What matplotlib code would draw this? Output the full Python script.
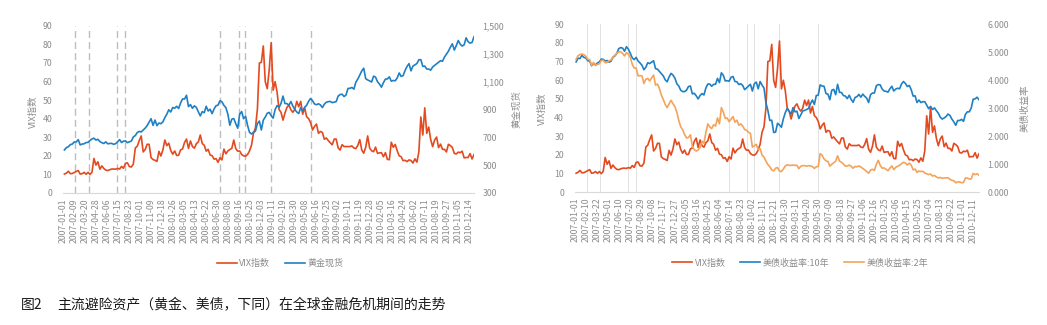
import matplotlib
matplotlib.use("Agg")
import matplotlib.pyplot as plt
from matplotlib.ticker import FuncFormatter
import pandas as pd

plt.rcParams['font.family'] = ['Noto Sans CJK SC', 'DejaVu Sans']

# weekly observations on the chart's date axis
weeks = pd.date_range('2007-01-05', periods=209, freq='W-FRI')

vix = [10.2, 10.7, 11.7, 10.4, 10.5, 11.0, 11.6,
       12.1, 10.2, 10.4, 11.1, 10.1, 11.1, 10.0, 11.2, 18.6, 15.0, 16.8, 12.8, 14.6,
       13.2, 12.3, 12.1, 12.5, 12.9, 12.9, 12.8, 13.2, 12.9, 14.3, 13.3, 16.0, 16.2,
       14.2, 14.0, 15.6, 24.2, 25.2, 28.2, 30.7, 22.1, 23.4, 26.2, 26.2, 19.0, 18.0,
       17.6, 17.0, 22.4, 19.9, 23.2, 28.5, 25.5, 26.8, 22.9, 20.9, 22.6, 20.2, 20.3,
       23.2, 23.7, 27.2, 29.0, 24.0, 28.0, 25.0, 24.1, 26.5, 27.5, 31.2, 26.6, 25.7,
       22.5, 23.5, 20.4, 20.1, 18.2, 18.5, 16.5, 19.0, 17.8, 23.6, 21.1, 22.6, 23.4,
       24.0, 28.5, 23.9, 22.5, 22.6, 20.7, 20.0, 19.8, 20.7, 22.6, 25.7, 32.1, 35.0,
       45.1, 69.9, 70.3, 79.1, 59.9, 56.1, 66.3, 80.9, 55.3, 59.9, 54.3, 44.9, 43.4,
       39.2, 43.0, 46.1, 47.3, 44.8, 43.4, 45.0, 49.3, 46.4, 49.3, 42.4, 45.9, 41.0,
       40.0, 37.9, 33.9, 35.8, 37.1, 32.1, 33.1, 32.6, 28.9, 29.6, 28.2, 27.0, 25.9,
       29.0, 29.0, 24.3, 23.1, 26.0, 25.0, 25.0, 25.0, 25.0, 25.3, 24.2, 23.9, 25.6,
       28.7, 23.1, 21.4, 24.6, 30.7, 24.2, 22.7, 22.2, 24.7, 21.3, 21.6, 21.7, 19.5,
       21.7, 18.1, 17.9, 27.3, 24.6, 26.1, 22.7, 20.0, 19.5, 17.4, 17.6, 16.9, 17.8,
       17.5, 16.1, 18.4, 16.6, 22.1, 40.9, 31.2, 45.8, 32.1, 35.5, 28.8, 24.9, 28.5,
       30.1, 24.4, 26.3, 23.5, 23.5, 22.1, 26.2, 25.5, 24.5, 21.3, 21.0, 22.0, 21.7,
       22.5, 18.9, 19.1, 19.1, 21.2, 18.3, 20.6]

gold = [609, 626, 632, 647, 651, 666, 666, 683, 645, 651, 653, 662, 663, 677, 688,
        693, 680, 685, 669, 661, 655, 667, 653, 655, 656, 649, 654, 667, 683, 662,
        672, 674, 661, 667, 673, 702, 712, 734, 742, 738, 751, 765, 783, 808, 833,
        785, 823, 783, 802, 797, 810, 841,
        865, 897, 881, 913, 908, 922, 906, 946, 975, 974, 1001, 920, 934, 908, 925,
        914, 882, 853, 884, 876, 922, 888, 901, 869, 903, 926, 930, 962, 954, 928,
        912, 865, 786, 830, 834, 797, 765, 866, 884, 833, 850, 785, 735, 723, 736,
        744, 798, 816, 752, 823, 845, 872,
        878, 854, 837, 899, 927, 914, 943, 995, 942, 941, 930, 956, 924, 899, 881,
        870, 913, 886, 915, 929, 958, 978, 962, 939, 933, 940, 932, 913, 937, 951,
        955, 957, 948, 952, 955, 995, 1006, 1009, 992, 1003, 1050, 1051, 1057, 1045,
        1095, 1118, 1146, 1176, 1195, 1120, 1111, 1104,
        1096, 1138, 1131, 1098, 1081, 1059, 1091, 1117, 1118, 1133, 1102, 1107, 1105,
        1125, 1161, 1136, 1142, 1179, 1208, 1228, 1176, 1211, 1219, 1229, 1256, 1256,
        1208, 1210, 1189, 1189, 1181, 1204, 1215, 1227, 1237, 1249, 1245, 1275, 1296,
        1317, 1346, 1370, 1325, 1357, 1394, 1367, 1354, 1363, 1413, 1385, 1375, 1380,
        1421]

ust10 = [4.65, 4.78, 4.77, 4.88, 4.81, 4.79, 4.69, 4.68, 4.51, 4.59, 4.54, 4.61, 4.65,
         4.75, 4.74, 4.68, 4.70, 4.64, 4.67, 4.81, 4.86, 4.95, 5.12, 5.16, 5.14, 5.03,
         5.19, 5.10, 4.95, 4.79, 4.73, 4.81, 4.68, 4.61, 4.53, 4.37, 4.46, 4.62, 4.59,
         4.64, 4.69, 4.41, 4.39, 4.31, 4.23, 4.15, 4.01, 3.94, 4.11, 4.24, 4.18, 4.07,
         3.87, 3.79, 3.64, 3.59, 3.59, 3.64, 3.77, 3.79, 3.51, 3.53, 3.44, 3.33, 3.45,
         3.52, 3.47, 3.72, 3.86, 3.86, 3.78, 3.85, 3.85, 4.06, 3.91, 4.26, 4.17, 3.97,
         3.98, 3.96, 4.10, 4.13, 3.95, 3.94, 3.84, 3.87, 3.81, 3.66, 3.72, 3.79, 3.85,
         3.61, 3.87, 3.93, 3.69, 3.95, 3.82, 3.72, 3.19, 2.92, 2.56, 2.57, 2.13, 2.15,
         2.46, 2.40, 2.32, 2.62, 2.84, 2.99, 2.89, 2.79, 3.02, 2.87, 2.89, 2.63, 2.76,
         2.90, 2.92, 2.95, 2.99, 3.16, 3.29, 3.13, 3.45, 3.46, 3.83, 3.79, 3.78, 3.52,
         3.50, 3.30, 3.64, 3.67, 3.48, 3.85, 3.56, 3.56, 3.45, 3.43, 3.34, 3.46, 3.31,
         3.21, 3.38, 3.41, 3.49, 3.39, 3.50, 3.42, 3.36, 3.20, 3.48, 3.54, 3.54, 3.80,
         3.84, 3.83, 3.68, 3.61, 3.60, 3.57, 3.69, 3.78, 3.61, 3.68, 3.71, 3.69, 3.86,
         3.95, 3.88, 3.77, 3.81, 3.66, 3.43, 3.44, 3.20, 3.29, 3.20, 3.23, 3.23, 3.11,
         2.98, 3.06, 2.95, 3.01, 2.91, 2.82, 2.68, 2.61, 2.65, 2.70, 2.79, 2.74, 2.61,
         2.51, 2.39, 2.56, 2.56, 2.60, 2.53, 2.78, 2.87, 2.87, 3.01, 3.32, 3.33, 3.39,
         3.30]

ust2 = [4.74, 4.87, 4.91, 4.93, 4.91, 4.85, 4.74, 4.73, 4.52, 4.63, 4.52, 4.56, 4.58,
        4.70, 4.71, 4.62, 4.63, 4.69, 4.71, 4.83, 4.88, 4.96, 5.00, 5.01, 4.95, 4.86,
        4.98, 4.92, 4.81, 4.56, 4.43, 4.43, 4.15, 4.16, 4.15, 3.88, 4.03, 4.06, 3.97,
        4.08, 4.18, 3.82, 3.86, 3.70, 3.47, 3.31, 3.13, 3.02, 3.15, 3.28, 3.16, 3.05,
        2.86, 2.56, 2.34, 2.23, 2.06, 1.94, 1.95, 2.05, 1.64, 1.52, 1.47, 1.51, 1.60,
        1.82, 1.75, 2.13, 2.44, 2.33, 2.27, 2.41, 2.36, 2.65, 2.44, 3.02, 2.86, 2.63,
        2.65, 2.52, 2.61, 2.70, 2.50, 2.57, 2.39, 2.44, 2.36, 2.24, 2.21, 2.14, 2.10,
        1.61, 1.66, 1.71, 1.52, 1.56, 1.32, 1.26, 1.11, 0.99, 0.91, 0.80, 0.76, 0.86,
        0.88, 0.76, 0.74, 0.83, 0.94, 0.98, 0.96, 0.96, 0.97, 0.96, 0.96, 0.84, 0.93,
        0.95, 0.95, 0.93, 0.95, 0.94, 0.92, 0.85, 0.91, 0.92, 1.38, 1.32, 1.19, 1.12,
        1.10, 0.93, 1.00, 1.05, 1.11, 1.30, 1.11, 1.07, 1.01, 0.93, 0.94, 0.97, 0.93,
        0.86, 0.92, 0.91, 0.94, 0.90, 0.85, 0.80, 0.74, 0.68, 0.79, 0.82, 0.78, 1.00,
        1.14, 0.96, 0.86, 0.87, 0.82, 0.77, 0.86, 0.94, 0.81, 0.89, 0.93, 0.96, 1.02,
        1.07, 1.04, 0.97, 1.04, 0.97, 0.80, 0.83, 0.71, 0.76, 0.74, 0.75, 0.69, 0.66,
        0.63, 0.65, 0.58, 0.60, 0.55, 0.51, 0.53, 0.50, 0.51, 0.51, 0.52, 0.46, 0.43,
        0.41, 0.34, 0.37, 0.37, 0.34, 0.35, 0.51, 0.51, 0.47, 0.48, 0.67, 0.63, 0.66,
        0.61]

# crisis milestones marked by vertical lines
events = pd.to_datetime(['2007-02-13', '2007-04-02', '2007-07-10', '2007-08-09',
                         '2008-07-11', '2008-09-15', '2008-10-08', '2009-01-09',
                         '2009-05-29'])

left_ticks = pd.date_range('2007-01-01', '2010-12-31', freq='39D')
right_ticks = pd.date_range('2007-01-01', '2010-12-31', freq='40D')
x_start, x_end = pd.Timestamp('2007-01-01'), pd.Timestamp('2010-12-31')

RED = '#E34A1F'
BLUE = '#1F80C4'
ORANGE = '#F4A35B'
GREY = '#8C8C8C'

W, H = 1047, 325
fig = plt.figure(figsize=(W / 100, H / 100), dpi=100)


def add_ax(x0, x1, y0, y1):
    return fig.add_axes([x0 / W, 1 - y1 / H, (x1 - x0) / W, (y1 - y0) / H])


def style(ax, ticks):
    ax.set_xlim(x_start, x_end)
    ax.set_ylim(0, 90)
    ax.set_yticks(range(0, 91, 10))
    ax.set_xticks(ticks)
    ax.set_xticklabels([t.strftime('%Y-%m-%d') for t in ticks], rotation=90)
    for s in ['top', 'left', 'right']:
        ax.spines[s].set_visible(False)
    ax.spines['bottom'].set_color('#D9D9D9')
    ax.tick_params(axis='x', length=0, pad=4, labelsize=6.3, labelcolor=GREY)
    ax.tick_params(axis='y', length=0, pad=8, labelsize=6.3, labelcolor=GREY)


def style_twin(ax2):
    for s in ax2.spines.values():
        s.set_visible(False)
    ax2.tick_params(axis='y', length=0, pad=6, labelsize=6.3, labelcolor=GREY)


# left: VIX vs gold
ax = add_ax(63.3, 474, 25.7, 193)
style(ax, left_ticks)
for d in events:
    ax.axvline(d, color='#BDBDBD', lw=1, ls=(0, (5, 3)), zorder=0)
l1, = ax.plot(weeks, vix, color=RED, lw=1.2)
ax2 = ax.twinx()
style_twin(ax2)
l2, = ax2.plot(weeks, gold, color=BLUE, lw=1.2)
ax2.set_ylim(300, 1500)
ax2.set_yticks(range(300, 1501, 200))
ax2.yaxis.set_major_formatter(FuncFormatter(lambda v, p: f'{v:,.0f}'))
ax.set_xlim(x_start, x_end)
fig.legend([l1, l2], ['VIX指数', '黄金现货'], loc='center', bbox_to_anchor=(280 / W, 1 - 263 / H),
           ncol=2, frameon=False, fontsize=6.5, labelcolor=GREY, handlelength=2.2,
           handletextpad=0.3, columnspacing=1.6)
fig.text(33 / W, 1 - 112 / H, 'VIX指数', rotation=90, ha='center', va='center', fontsize=6.8, color=GREY)
fig.text(517 / W, 1 - 109 / H, '黄金现货', rotation=90, ha='center', va='center', fontsize=6.8, color=GREY)

# right: VIX vs treasury yields
bx = add_ax(575, 979, 24, 192.3)
style(bx, right_ticks)
for d in events:
    bx.axvline(d, color='#E2E2E2', lw=0.7, zorder=0)
r1, = bx.plot(weeks, vix, color=RED, lw=1.2)
bx2 = bx.twinx()
style_twin(bx2)
r2, = bx2.plot(weeks, ust10, color=BLUE, lw=1.2)
r3, = bx2.plot(weeks, ust2, color=ORANGE, lw=1.2)
bx2.set_ylim(0, 6)
bx2.set_yticks(range(0, 7))
bx2.yaxis.set_major_formatter(FuncFormatter(lambda v, p: f'{v:.3f}'))
bx.set_xlim(x_start, x_end)
fig.legend([r1, r2, r3], ['VIX指数', '美债收益率:10年', '美债收益率:2年'], loc='center',
           bbox_to_anchor=(800 / W, 1 - 263 / H), ncol=3, frameon=False, fontsize=6.5,
           labelcolor=GREY, handlelength=2.2, handletextpad=0.3, columnspacing=1.6)
fig.text(542 / W, 1 - 109 / H, 'VIX指数', rotation=90, ha='center', va='center', fontsize=6.8, color=GREY)
fig.text(1025 / W, 1 - 108 / H, '美债收益率', rotation=90, ha='center', va='center', fontsize=6.8, color=GREY)

fig.text(21 / W, 1 - 305 / H, '图2', ha='left', va='center', fontsize=10, color='#1A1A1A')
fig.text(57 / W, 1 - 305 / H, '主流避险资产（黄金、美债，下同）在全球金融危机期间的走势',
         ha='left', va='center', fontsize=10, color='#1A1A1A')

fig.savefig('out.png', dpi=100, facecolor='white')
